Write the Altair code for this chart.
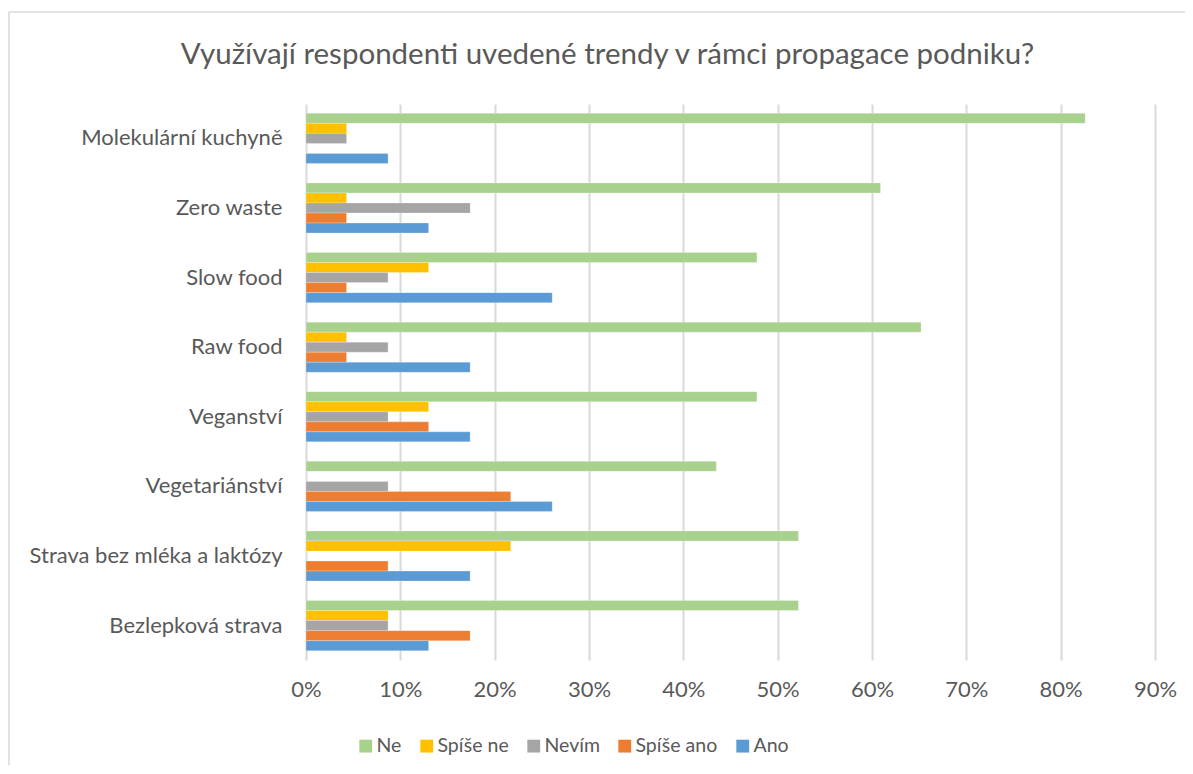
import altair as alt
import pandas as pd

categories = ["Molekulární kuchyně", "Zero waste", "Slow food", "Raw food",
              "Veganství", "Vegetariánství", "Strava bez mléka a laktózy", "Bezlepková strava"]
series = ["Ne", "Spíše ne", "Nevím", "Spíše ano", "Ano"]
colors = ["#A9D18E", "#FFC000", "#A5A5A5", "#ED7D31", "#5B9BD5"]

ne        = [82.6, 60.9, 47.8, 65.2, 47.8, 43.5, 52.2, 52.2]
spise_ne  = [4.3, 4.3, 13.0, 4.3, 13.0, 0.0, 21.7, 8.7]
nevim     = [4.3, 17.4, 8.7, 8.7, 8.7, 8.7, 0.0, 8.7]
spise_ano = [0.0, 4.3, 4.3, 4.3, 13.0, 21.7, 8.7, 17.4]
ano       = [8.7, 13.0, 26.1, 17.4, 17.4, 26.1, 17.4, 13.0]

title_text = "Využívají respondenti uvedené trendy v rámci propagace podniku?"
tick_values = [0, 0.1, 0.2, 0.3, 0.4, 0.5, 0.6, 0.7, 0.8, 0.9]

rows = []
for name, vals in zip(series, [ne, spise_ne, nevim, spise_ano, ano]):
    for c, v in zip(categories, vals):
        rows.append({"cat": c, "series": name, "value": v / 100})
df = pd.DataFrame(rows)

FONT = "Lato"
TXT = "#595959"
W, H = 849, 556

bars = alt.Chart(df).mark_bar(stroke="white", strokeWidth=0.4, strokeOpacity=0.6).encode(
    y=alt.Y("cat:N", sort=categories, title=None,
            scale=alt.Scale(paddingInner=0.28, paddingOuter=0.134),
            axis=alt.Axis(ticks=False, domain=False, labelFontSize=22, labelColor=TXT,
                          labelFont=FONT, labelPadding=24, labelLimit=400)),
    yOffset=alt.YOffset("series:N", sort=series,
                        scale=alt.Scale(domain=series, paddingInner=0, paddingOuter=0)),
    x=alt.X("value:Q", title=None, scale=alt.Scale(domain=[0, 0.9], nice=False),
            axis=alt.Axis(format=".0%", values=tick_values, grid=True, gridColor="#D9D9D9",
                          gridWidth=2, domain=False, ticks=False, labelFontSize=22,
                          labelColor=TXT, labelFont=FONT, labelPadding=19,
                          labelFlush=False)),
    color=alt.Color("series:N", sort=series,
                    scale=alt.Scale(domain=series, range=colors),
                    legend=alt.Legend(title=None, orient="none", direction="horizontal",
                                      legendX=50, legendY=632, symbolType="square",
                                      symbolSize=165, symbolStrokeWidth=0,
                                      labelFontSize=19.5, labelColor=TXT, labelFont=FONT,
                                      labelOffset=1, columnPadding=15, padding=0)),
)

one = pd.DataFrame({"t": [title_text]})

title = alt.Chart(one).mark_text(font=FONT, fontSize=29.5, color=TXT, align="center",
                                 baseline="middle").encode(
    text="t:N", x=alt.value(607.5 - 306), y=alt.value(55 - 104))

frame_left = alt.Chart(one).mark_rule(color="#D9D9D9", strokeWidth=1.5).encode(
    x=alt.value(-297), y=alt.value(-92), y2=alt.value(800))
frame_top = alt.Chart(one).mark_rule(color="#D9D9D9", strokeWidth=1.5).encode(
    x=alt.value(-297), x2=alt.value(1000), y=alt.value(-92))

chart = alt.layer(frame_left, frame_top, bars, title).properties(
    width=W, height=H,
    autosize=alt.AutoSizeParams(type="none"),
    padding={"left": 298, "top": 96, "right": 30, "bottom": 105},
).configure_view(stroke=None)

chart.save("out.html", embed_options={"renderer": "svg", "actions": False})
